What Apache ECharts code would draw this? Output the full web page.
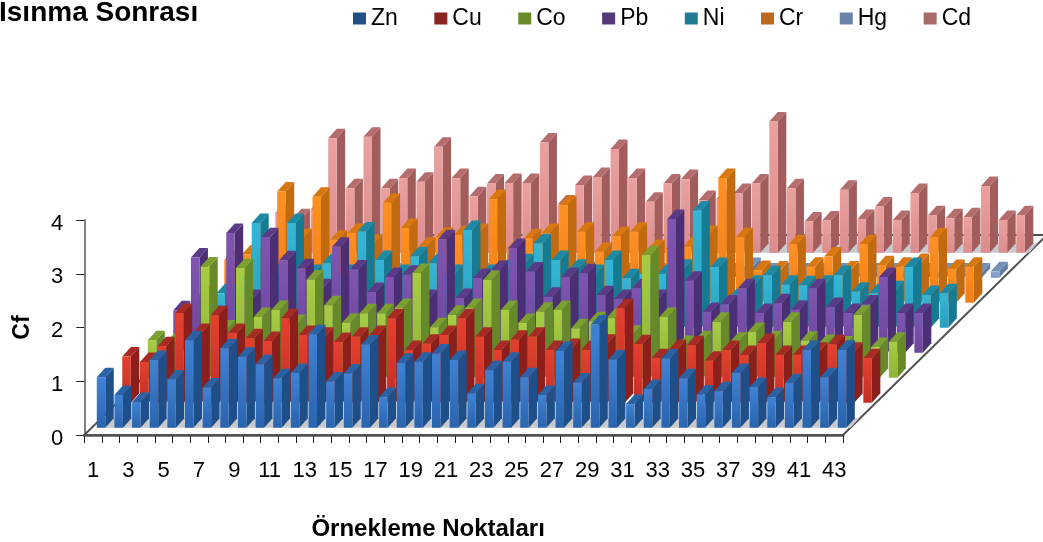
<!DOCTYPE html>
<html><head><meta charset="utf-8">
<script src="https://cdn.jsdelivr.net/npm/echarts@6/dist/echarts.min.js"></script>
<style>html,body{margin:0;padding:0;background:#fff}#c{width:1043px;height:542px}</style>
</head><body><div id="c"></div>
<script>
const categories = ['1','2','3','4','5','6','7','8','9','10','11','12','13','14','15','16','17','18','19','20','21','22','23','24','25','26','27','28','29','30','31','32','33','34','35','36','37','38','39','40','41','42','43'];
const Zn = [0.94,0.61,0.48,1.26,0.90,1.63,0.75,1.48,1.32,1.18,0.92,1.02,1.74,0.86,1.01,1.55,0.57,1.21,1.23,1.38,1.26,0.64,1.07,1.23,0.94,0.61,1.43,0.84,1.92,1.27,0.44,0.72,1.29,0.92,0.62,0.68,1.02,0.76,0.57,0.83,1.45,0.94,1.45];
const Cu = [0.86,0.76,1.05,1.67,1.3,1.63,1.3,1.2,1.15,1.57,1.26,1.23,1.13,1.23,1.26,1.57,0.98,1.1,1.26,1.57,1.23,0.98,1.17,1.23,0.98,1.02,0.98,1.1,1.76,1.09,0.83,1.0,1.07,0.78,0.98,0.89,1.11,0.89,0.89,0.95,1.09,0.95,0.83];
const Co = [0.70,0.64,0.5,2.07,0.9,2.04,1.13,1.26,1.0,1.83,1.35,1.02,1.2,1.2,1.3,1.95,0.94,1.17,1.3,1.82,1.26,1.02,1.23,1.26,0.92,1.05,1.11,0.8,2.28,1.13,0.61,0.7,1.04,0.67,0.85,0.7,1.04,0.69,0.63,0.6,1.17,0.57,0.67];
const Pb = [0.79,1.77,0.7,2.23,1.0,2.15,1.72,1.57,1.2,1.97,1.55,1.13,1.41,1.45,1.0,2.11,1.02,1.39,1.54,1.95,1.51,1.04,1.41,1.48,1.07,1.0,1.2,1.0,2.49,1.34,0.76,0.9,1.2,0.74,0.92,0.8,1.2,0.85,0.74,0.9,1.41,0.74,0.74];
const Ni = [0.6,0.64,0.8,1.95,1.0,1.95,1.0,1.2,1.0,1.79,1.26,1.0,1.33,1.2,1.0,1.82,1.0,1.1,1.2,1.57,1.26,1.1,1.0,1.26,0.92,1.0,1.0,1.1,2.18,1.13,0.55,0.8,0.98,0.8,0.79,0.8,0.98,0.67,0.64,0.7,1.13,0.61,0.64];
const Cr = [0.8,0.9,1.0,2.07,1.2,1.97,1.17,1.3,1.1,1.86,1.39,1.04,1.23,1.26,1.3,1.93,1.0,1.2,1.3,1.82,1.32,0.95,1.24,1.32,1.0,1.0,1.04,1.26,2.32,1.22,0.61,0.6,1.09,0.67,0.86,0.6,1.09,0.7,0.67,0.74,1.22,0.63,0.67];
const Hg = [0.1,0.1,0.1,0.12,0.1,0.12,0.1,0.1,0.1,0.12,0.1,0.1,0.1,0.1,0.1,0.12,0.1,0.1,0.1,0.12,0.1,0.1,0.1,0.1,0.1,0.1,0.1,0.1,0.2,0.1,0.1,0.1,0.1,0.1,0.1,0.1,0.1,0.1,0.1,0.1,0.1,0.1,0.12];
const Cd = [0.74,0.64,0.8,2.13,1.2,2.16,1.2,1.39,1.32,1.97,1.39,1.05,1.29,1.3,1.3,2.05,0.9,1.26,1.41,1.93,1.39,0.95,1.29,1.37,0.98,1.0,1.11,1.29,2.44,1.2,0.58,0.6,1.17,0.63,0.86,0.61,1.11,0.7,0.64,0.66,1.24,0.61,0.7];

const names = ['Zn','Cu','Co','Pb','Ni','Cr','Hg','Cd'];
const values = [Zn,Cu,Co,Pb,Ni,Cr,Hg,Cd];
// front-top, front-bottom, side, roof, legend
const palettes = [
  ['#3f82d4','#2a64ae','#1f4f88','#2a62a6','#234f87'],
  ['#e5402f','#c22f25','#8c1f1b','#a82a24','#8a2522'],
  ['#a8cc44','#8db338','#668a2a','#7ba030','#6a8a2e'],
  ['#7f55b0','#6c469c','#4c2e74','#5c3a88','#54397a'],
  ['#35b6d6','#2aa0c0','#167a92','#1c8aa6','#217a94'],
  ['#ff9024','#f07f14','#c26a0f','#d8760f','#bb6a1c'],
  ['#8fa9d0','#7c98c2','#607ca6','#7690b8','#6a83a8'],
  ['#eba0a0','#dc8c8c','#a25c5c','#b56c6c','#a96a6a']
];
const DX = 25.5, DY = -25, BAR = 8.5, BDX = 8.5, BDY = -9.5, START = 0.31, STARTY = 0.29;

function poly(points, fill){ return {type:'polygon', shape:{points}, style:{fill, stroke:null}}; }

function barRenderer(k){
  const p = palettes[k];
  return function(params, api){
    const idx = api.value(0), v = api.value(1);
    const b = api.coord([idx, 0]), t = api.coord([idx, v]);
    const x = b[0] - BAR/2 + (k+START)*DX;
    const yb = b[1] + (k+STARTY)*DY;
    const yt = t[1] + (k+STARTY)*DY;
    const children = [];
    if (idx === 0 && (k === 0 || k === 7)) {
      const end = api.coord([categories.length-1, 0])[0] + BAR + (k+START)*DX;
      children.push(poly([[x,yb],[end,yb],[end+BDX,yb+BDY],[x+BDX,yb+BDY]],'#c9c9cd'));
    }
    children.push(poly([[x+BAR,yb],[x+BAR+BDX,yb+BDY],[x+BAR+BDX,yt+BDY],[x+BAR,yt]],p[2]));
    children.push(poly([[x,yt],[x+BAR,yt],[x+BAR+BDX,yt+BDY],[x+BDX,yt+BDY]],p[3]));
    children.push({type:'rect',shape:{x,y:yt,width:BAR,height:yb-yt},style:{fill:{type:'linear',x:0,y:0,x2:0,y2:1,colorStops:[{offset:0,color:p[0]},{offset:1,color:p[1]}]}}});
    return {type:'group',children};
  };
}

function floorRenderer(params, api){
  const c = params.coordSys;
  const x0=c.x, x1=c.x+c.width, y=c.y+c.height, dx=8*DX, dy=8*DY;
  return {type:'group',children:[
    {type:'polygon',shape:{points:[[x0,y],[x1,y],[x1+dx,y+dy],[x0+dx,y+dy]]},style:{fill:'#fff',stroke:'#505050',lineWidth:2}}
  ]};
}

const series = [{type:'custom',name:'floor',silent:true,renderItem:floorRenderer,data:[[0,0]],encode:{x:0,y:1},z:1}];
for (let k=7;k>=0;k--) {
  series.push({type:'custom',name:names[k],renderItem:barRenderer(k),itemStyle:{color:palettes[k][4]},
    data:values[k].map((v,i)=>[i,v]),encode:{x:0,y:1},z:3,silent:true});
}
const chart = echarts.init(document.getElementById('c'),null,{renderer:'canvas'});
const FONT = '"Liberation Sans",Arial,sans-serif';
chart.setOption({
  animation:false,
  backgroundColor:'#fff',
  title:{text:'Isınma Sonrası',left:-1,top:-1,padding:0,textStyle:{fontFamily:FONT,fontWeight:'bold',fontSize:28,color:'#000'}},
  legend:{data:names,left:353,top:7,padding:0,itemWidth:13,itemHeight:12,itemGap:36.5,icon:'rect',selectedMode:false,textStyle:{fontFamily:FONT,fontSize:23,color:'#000'}},
  grid:{left:84.3,top:220,width:758.7,height:215,containLabel:false,outerBoundsMode:'none'},
  xAxis:{type:'category',data:categories,boundaryGap:true,
    name:'Örnekleme Noktaları',nameLocation:'middle',nameGap:82,nameTextStyle:{fontFamily:FONT,fontWeight:'bold',fontSize:24,color:'#000',padding:[0,71,0,0]},
    axisLine:{lineStyle:{color:'#808080',width:3}},
    axisTick:{show:true,interval:0,length:8,lineStyle:{color:'#202020',width:1}},
    axisLabel:{interval:1,margin:25,fontFamily:FONT,fontSize:22,color:'#000'},splitLine:{show:false}},
  yAxis:{type:'value',min:0,max:4,interval:1,
    name:'Cf',nameLocation:'middle',nameGap:50,nameTextStyle:{fontFamily:FONT,fontWeight:'bold',fontSize:23,color:'#000'},
    axisLine:{show:true,lineStyle:{color:'#808080',width:2}},
    axisTick:{show:true,length:8,lineStyle:{color:'#202020',width:1}},
    axisLabel:{margin:21,verticalAlign:'top',lineHeight:7,fontFamily:FONT,fontSize:22,color:'#000'},splitLine:{show:false}},
  series
});
</script></body></html>
